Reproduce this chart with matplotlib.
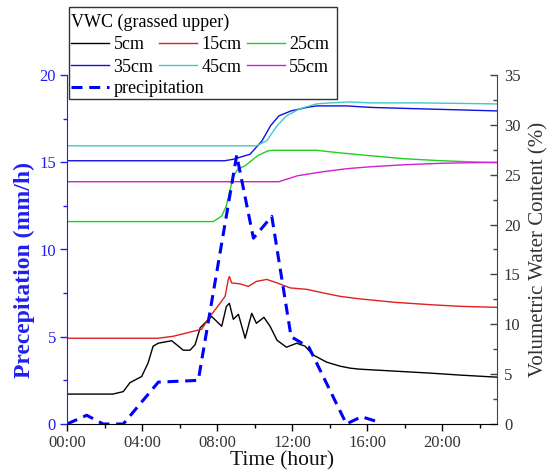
import numpy as np
import matplotlib
matplotlib.use("Agg")
import matplotlib.pyplot as plt
from matplotlib.ticker import MultipleLocator, FuncFormatter
from matplotlib.patches import Rectangle

plt.rcParams['font.family'] = ['Liberation Serif', 'DejaVu Serif']

# soil moisture (VWC %) at each depth, time in hours
t5 = [0, 2.45, 3.0, 3.36, 3.98, 4.32, 4.59, 4.86, 5.58, 5.85, 6.2, 6.56, 6.83, 7.1, 7.45, 7.7,
      7.98, 8.25, 8.5, 8.66, 8.87, 9.14, 9.5, 9.85, 10.1, 10.5, 10.83, 11.2, 11.7, 12.25, 12.7,
      13.1, 13.85, 14.56, 15.1, 15.6, 17.5, 19.4, 21.0, 22.9]
v5 = [3.0, 3.0, 3.25, 4.15, 4.76, 6.1, 7.8, 8.1, 8.35, 7.95, 7.4, 7.4, 7.95, 9.65, 10.3, 10.8,
      10.3, 9.8, 11.8, 12.1, 10.5, 11.0, 8.6, 11.1, 10.1, 10.7, 9.8, 8.4, 7.7, 8.1, 7.8,
      6.95, 6.2, 5.8, 5.6, 5.5, 5.3, 5.1, 4.9, 4.7]

t15 = [0, 4.86, 5.67, 6.74, 7.18, 7.63, 8.16, 8.43, 8.6, 8.66, 8.78, 9.23, 9.67, 10.1, 10.65,
       11.2, 11.9, 12.8, 13.65, 14.56, 15.6, 17.5, 19.5, 21.0, 22.9]
v15 = [8.6, 8.6, 8.8, 9.3, 9.5, 10.8, 12.1, 12.8, 14.5, 14.8, 14.15, 14.05, 13.8, 14.3, 14.5,
       14.15, 13.65, 13.5, 13.15, 12.8, 12.55, 12.2, 11.95, 11.8, 11.7]

t25 = [0, 7.8, 8.25, 8.5, 8.7, 8.87, 9.14, 9.5, 9.76, 10.2, 10.73, 11.0, 13.3, 14.5, 16.2,
       18.0, 20.0, 22.9]
v25 = [20.3, 20.3, 20.85, 21.9, 23.5, 24.9, 25.6, 25.9, 26.3, 26.95, 27.4, 27.45, 27.45, 27.2,
       26.9, 26.6, 26.4, 26.2]

t35 = [0, 8.4, 8.87, 9.76, 10.4, 10.85, 11.3, 11.95, 12.8, 13.3, 14.9, 16.2, 19.0, 22.9]
v35 = [26.4, 26.4, 26.55, 27.05, 28.4, 29.9, 30.9, 31.4, 31.75, 31.9, 31.9, 31.75, 31.6, 31.4]

t45 = [0, 10.1, 10.65, 11.2, 11.7, 12.4, 13.3, 14.0, 15.1, 16.2, 19.0, 22.9]
v45 = [27.9, 27.9, 28.4, 29.9, 30.9, 31.6, 32.1, 32.2, 32.3, 32.2, 32.2, 32.1]

t55 = [0, 11.3, 12.3, 13.65, 14.9, 16.2, 18.0, 20.0, 22.9]
v55 = [24.3, 24.3, 24.9, 25.3, 25.6, 25.8, 26.0, 26.15, 26.25]

# rainfall intensity (mm/h)
tp = [0, 1.05, 1.93, 3.0, 4.87, 7.0, 9.05, 9.94, 10.92, 11.95, 12.9, 14.9, 15.7, 16.5]
pp = [0, 0.5, 0, 0, 2.4, 2.5, 15.4, 10.65, 11.9, 5.0, 4.4, 0, 0.42, 0.15]

depths = ['5cm', '15cm', '25cm', '35cm', '45cm', '55cm']
colors = ['#000000', '#e02020', '#20d020', '#1010e0', '#40c8c8', '#d020d0']
series = [(t5, v5), (t15, v15), (t25, v25), (t35, v35), (t45, v45), (t55, v55)]

blue = '#2020ee'
grey = '#333333'
W, H = 555, 473

fig = plt.figure(figsize=(5.55, 4.73), dpi=100)
ax = fig.add_axes([67/W, 49/H, 430/W, 349/H])
ax2 = ax.twinx()

lines = []
for (t, v), c, d in zip(series, colors, depths):
    ln, = ax2.plot(t, v, color=c, lw=1.0, label=d)
    lines.append(ln)

# rain on the left axis, drawn above the VWC curves
ax.set_zorder(ax2.get_zorder() + 1)
ax.patch.set_visible(False)
pl, = ax.plot(tp, pp, color='#0000ff', lw=2.2, dashes=(3.6, 2.2), label='precipitation')

ax.set_xlim(0, 22.93)
ax.set_ylim(0, 20)
ax2.set_ylim(0, 35)

ax.xaxis.set_major_locator(MultipleLocator(4))
ax.xaxis.set_minor_locator(MultipleLocator(2))
ax.xaxis.set_major_formatter(FuncFormatter(lambda x, p: '%02d:00' % int(round(x))))
ax.yaxis.set_major_locator(MultipleLocator(5))
ax.yaxis.set_minor_locator(MultipleLocator(2.5))
ax2.yaxis.set_major_locator(MultipleLocator(5))
ax2.yaxis.set_minor_locator(MultipleLocator(2.5))

for s in ['top', 'right']:
    ax.spines[s].set_visible(False)
for s in ['top', 'left', 'bottom']:
    ax2.spines[s].set_visible(False)
ax.spines['left'].set_color(blue)
ax.spines['bottom'].set_color('#000000')
ax2.spines['right'].set_color('#444444')

ax.tick_params(axis='x', which='major', direction='out', length=5, width=1, colors='#000000',
               labelcolor=grey, labelsize=12, pad=3)
ax.tick_params(axis='x', which='minor', direction='out', length=3, width=1, colors='#000000')
ax.tick_params(axis='y', which='major', direction='out', length=5, width=1, colors=blue,
               labelsize=12, pad=3)
ax.tick_params(axis='y', which='minor', direction='out', length=3, width=1, colors=blue)
ax2.tick_params(axis='y', which='major', direction='in', length=5, width=1, colors='#444444',
                labelcolor=grey, labelsize=12, pad=5)
ax2.tick_params(axis='y', which='minor', direction='in', length=3, width=1, colors='#444444')

ax.set_xlabel('Time (hour)', fontsize=15.5, color='#111111', labelpad=0)
ax.set_ylabel('Precepitation (mm/h)', fontsize=17, color=blue, fontweight='bold')
ax.yaxis.set_label_coords(-0.075, 0.44)
ax2.set_ylabel('Volumetric Water Content (%)', fontsize=15, color=grey, labelpad=6)

# legend: framed box above the plot, depths in a 3x2 grid, rain on its own row
fig.patches.append(Rectangle((69/W, 1 - 99/H), 268/W, 92/H, transform=fig.transFigure,
                             facecolor='white', edgecolor='#333333', lw=1.0, zorder=4))
leg_kw = dict(loc='upper left', fontsize=13, frameon=False, borderaxespad=0,
              handletextpad=0.25, labelspacing=0.28, handlelength=2.1)
grid = [lines[0], lines[3], lines[1], lines[4], lines[2], lines[5]]
leg1 = fig.legend(handles=grid, labels=[h.get_label() for h in grid], ncol=3,
                  bbox_to_anchor=(67.5/W, 1 - 10.5/H), title='VWC (grassed upper)',
                  title_fontsize=13, alignment='left', columnspacing=0.3, borderpad=0.2,
                  **leg_kw)
leg2 = fig.legend(handles=[pl], labels=['precipitation'], borderpad=0,
                  bbox_to_anchor=(71/W, 1 - 80/H), **leg_kw)

fig.savefig('out.png', dpi=100)
